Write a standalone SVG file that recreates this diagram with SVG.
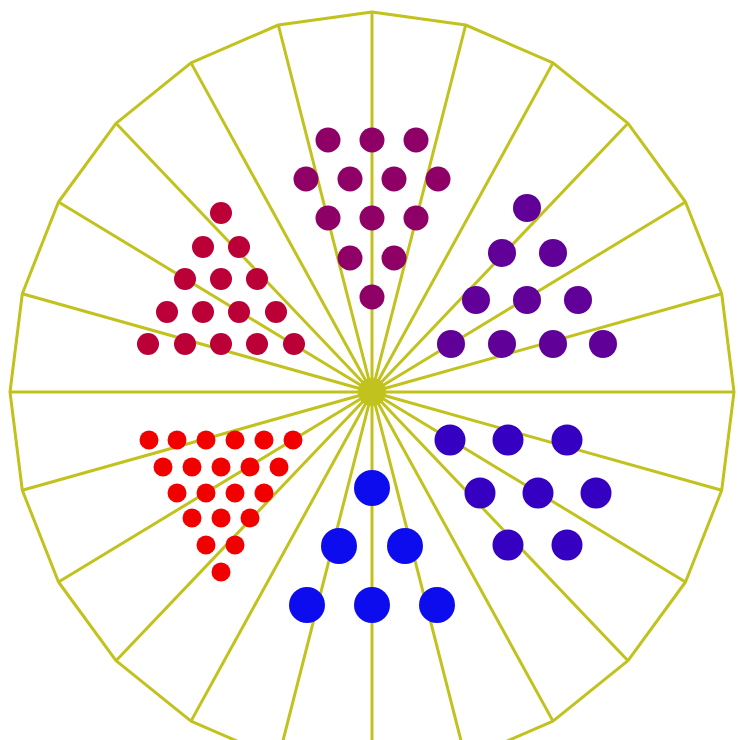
<svg xmlns="http://www.w3.org/2000/svg" width="738" height="740" viewBox="0 0 738 740">
<style>
.ln{fill:none;stroke:#c2c21e;stroke-width:3;stroke-linejoin:round}
.m{fill:#8e0066}
.dr{fill:#bb0038}
.r{fill:#f20000}
.p{fill:#600098}
.bv{fill:#3500c2}
.b{fill:#0c0cee}
</style>
<rect width="738" height="740" fill="#ffffff"/>
<g id="wheel">
<polygon class="ln" points="372,12 465.7,25 553,62.9 628,123.3 685.5,202 721.7,293.7 734,392 721.7,490.3 685.5,582 628,660.7 553,721.1 465.7,759 372,772 278.3,759 191,721.1 116,660.7 58.5,582 22.3,490.3 10,392 22.3,293.7 58.5,202 116,123.3 191,62.9 278.3,25"/>
</g>
<g id="connectors">
<path class="ln" d="M372,392L372,12M372,392L465.7,25M372,392L553,62.9M372,392L628,123.3M372,392L685.5,202M372,392L721.7,293.7M372,392L734,392M372,392L721.7,490.3M372,392L685.5,582M372,392L628,660.7M372,392L553,721.1M372,392L465.7,759M372,392L372,772M372,392L278.3,759M372,392L191,721.1M372,392L116,660.7M372,392L58.5,582M372,392L22.3,490.3M372,392L10,392M372,392L22.3,293.7M372,392L58.5,202M372,392L116,123.3M372,392L191,62.9M372,392L278.3,25"/>
<circle cx="372" cy="392" r="14" fill="#c2c21e"/>
</g>
<g id="magenta">
<circle class="m" cx="328" cy="140" r="12.5"/><circle class="m" cx="372" cy="140" r="12.5"/><circle class="m" cx="416" cy="140" r="12.5"/>
<circle class="m" cx="306" cy="179" r="12.5"/><circle class="m" cx="350" cy="179" r="12.5"/><circle class="m" cx="394" cy="179" r="12.5"/><circle class="m" cx="438" cy="179" r="12.5"/>
<circle class="m" cx="328" cy="218" r="12.5"/><circle class="m" cx="372" cy="218" r="12.5"/><circle class="m" cx="416" cy="218" r="12.5"/>
<circle class="m" cx="350" cy="258" r="12.5"/><circle class="m" cx="394" cy="258" r="12.5"/>
<circle class="m" cx="372" cy="297" r="12.5"/>
</g>
<g id="darkred">
<circle class="dr" cx="221" cy="213" r="11"/>
<circle class="dr" cx="203" cy="247" r="11"/><circle class="dr" cx="239" cy="247" r="11"/>
<circle class="dr" cx="185" cy="279" r="11"/><circle class="dr" cx="221" cy="279" r="11"/><circle class="dr" cx="257" cy="279" r="11"/>
<circle class="dr" cx="167" cy="312" r="11"/><circle class="dr" cx="203" cy="312" r="11"/><circle class="dr" cx="239" cy="312" r="11"/><circle class="dr" cx="276" cy="312" r="11"/>
<circle class="dr" cx="148" cy="344" r="11"/><circle class="dr" cx="185" cy="344" r="11"/><circle class="dr" cx="221" cy="344" r="11"/><circle class="dr" cx="257" cy="344" r="11"/><circle class="dr" cx="294" cy="344" r="11"/>
</g>
<g id="red">
<circle class="r" cx="149" cy="440" r="9.5"/><circle class="r" cx="177" cy="440" r="9.5"/><circle class="r" cx="206" cy="440" r="9.5"/><circle class="r" cx="235" cy="440" r="9.5"/><circle class="r" cx="264" cy="440" r="9.5"/><circle class="r" cx="293" cy="440" r="9.5"/>
<circle class="r" cx="163" cy="467" r="9.5"/><circle class="r" cx="192" cy="467" r="9.5"/><circle class="r" cx="221" cy="467" r="9.5"/><circle class="r" cx="250" cy="467" r="9.5"/><circle class="r" cx="279" cy="467" r="9.5"/>
<circle class="r" cx="177" cy="493" r="9.5"/><circle class="r" cx="206" cy="493" r="9.5"/><circle class="r" cx="235" cy="493" r="9.5"/><circle class="r" cx="264" cy="493" r="9.5"/>
<circle class="r" cx="192" cy="518" r="9.5"/><circle class="r" cx="221" cy="518" r="9.5"/><circle class="r" cx="250" cy="518" r="9.5"/>
<circle class="r" cx="206" cy="545" r="9.5"/><circle class="r" cx="235" cy="545" r="9.5"/>
<circle class="r" cx="221" cy="572" r="9.5"/>
</g>
<g id="purple">
<circle class="p" cx="527" cy="208" r="14"/>
<circle class="p" cx="502" cy="253" r="14"/><circle class="p" cx="553" cy="253" r="14"/>
<circle class="p" cx="476" cy="300" r="14"/><circle class="p" cx="527" cy="300" r="14"/><circle class="p" cx="578" cy="300" r="14"/>
<circle class="p" cx="451" cy="344" r="14"/><circle class="p" cx="502" cy="344" r="14"/><circle class="p" cx="553" cy="344" r="14"/><circle class="p" cx="603" cy="344" r="14"/>
</g>
<g id="violet">
<circle class="bv" cx="450" cy="440" r="15.5"/><circle class="bv" cx="508" cy="440" r="15.5"/><circle class="bv" cx="567" cy="440" r="15.5"/>
<circle class="bv" cx="480" cy="493" r="15.5"/><circle class="bv" cx="538" cy="493" r="15.5"/><circle class="bv" cx="596" cy="493" r="15.5"/>
<circle class="bv" cx="508" cy="545" r="15.5"/><circle class="bv" cx="567" cy="545" r="15.5"/>
</g>
<g id="blue">
<circle class="b" cx="372" cy="488" r="18"/>
<circle class="b" cx="339" cy="546" r="18"/><circle class="b" cx="405" cy="546" r="18"/>
<circle class="b" cx="307" cy="605" r="18"/><circle class="b" cx="372" cy="605" r="18"/><circle class="b" cx="437" cy="605" r="18"/>
</g>
</svg>
